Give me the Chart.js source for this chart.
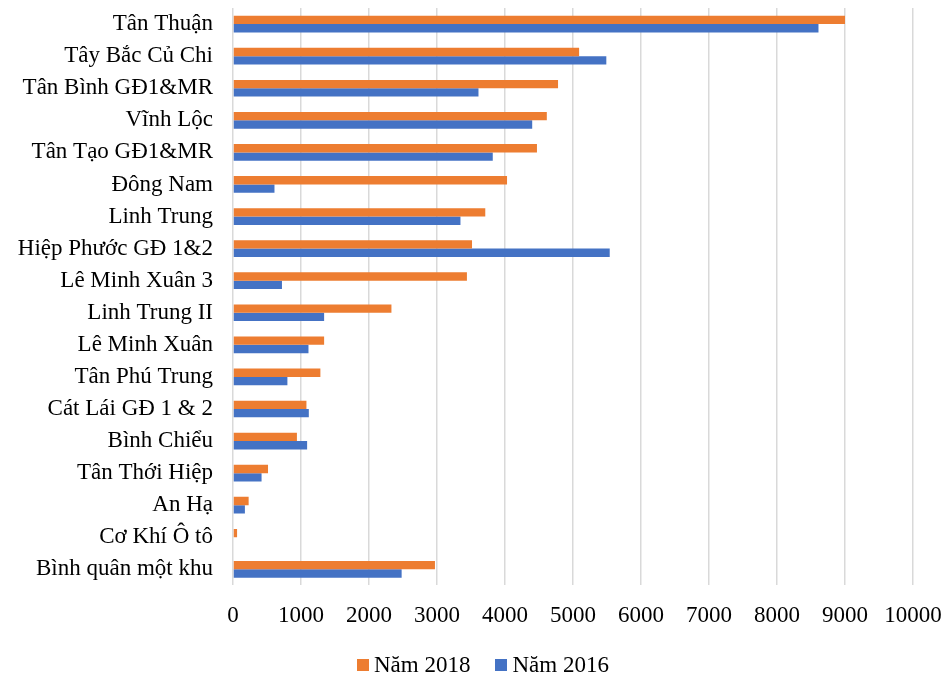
<!DOCTYPE html>
<html>
<head>
<meta charset="utf-8">
<script src="https://cdn.jsdelivr.net/npm/chart.js@4"></script>
<style>
  html, body { margin: 0; padding: 0; background: #fff; }
  #wrap { position: relative; width: 945px; height: 676px; }
  #legend {
    position: absolute; left: 357px; top: 653px;
    display: flex; align-items: center;
    font-family: 'Liberation Serif', 'Times New Roman', serif;
    font-size: 23px; line-height: 24px; color: #000;
  }
  #legend .item { display: flex; align-items: center; margin-right: 25px; }
  #legend .box { width: 12px; height: 12px; margin-right: 5px; }
</style>
</head>
<body>
<div id="wrap">
  <canvas id="chart"></canvas>
  <div id="legend"></div>
</div>
<script>
const categories = [
    'Tân Thuận', 'Tây Bắc Củ Chi', 'Tân Bình GĐ1&MR', 'Vĩnh Lộc', 'Tân Tạo GĐ1&MR',
    'Đông Nam', 'Linh Trung', 'Hiệp Phước GĐ 1&2', 'Lê Minh Xuân 3', 'Linh Trung II',
    'Lê Minh Xuân', 'Tân Phú Trung', 'Cát Lái GĐ 1 & 2', 'Bình Chiểu', 'Tân Thới Hiệp',
    'An Hạ', 'Cơ Khí Ô tô', 'Bình quân một khu'
];
const values2018 = [9000, 5090, 4780, 4615, 4470, 4030, 3710, 3515, 3440, 2330, 1340, 1285, 1080, 940, 515, 230, 60, 2970];
const values2016 = [8610, 5490, 3610, 4400, 3820, 610, 3345, 5540, 720, 1340, 1110, 800, 1115, 1090, 420, 175, 0, 2480];
const xTicks = [0, 1000, 2000, 3000, 4000, 5000, 6000, 7000, 8000, 9000, 10000];

const serif = "'Liberation Serif', 'Times New Roman', serif";
Chart.defaults.font.family = serif;
Chart.defaults.color = '#000';

const chart = new Chart(document.getElementById('chart'), {
    type: 'bar',
    data: {
        labels: categories,
        datasets: [
            { label: 'Năm 2018', data: values2018, backgroundColor: '#ED7D31' },
            { label: 'Năm 2016', data: values2016, backgroundColor: '#4472C4' }
        ]
    },
    options: {
        indexAxis: 'y',
        responsive: true,
        maintainAspectRatio: false,
        animation: false,
        datasets: { bar: { categoryPercentage: 0.52, barPercentage: 1 } },
        layout: { padding: { top: 0, right: 32, bottom: 46, left: 0 } },
        scales: {
            x: {
                min: xTicks[0],
                max: xTicks[xTicks.length - 1],
                afterBuildTicks: (scale) => { scale.ticks = xTicks.map(v => ({ value: v })); },
                ticks: { font: { size: 23 }, padding: 0, maxRotation: 0, callback: (v) => String(v) },
                grid: { color: '#D9D9D9', lineWidth: 1.5, drawTicks: true, tickLength: 17, tickColor: 'rgba(0,0,0,0)' },
                border: { display: false }
            },
            y: {
                afterFit: (scale) => { scale.width = 233; },
                ticks: { font: { size: 23, lineHeight: 0.7 }, padding: 0, autoSkip: false },
                grid: { display: false, tickLength: 20 },
                border: { display: false }
            }
        },
        plugins: {
            legend: { display: false },
            tooltip: { enabled: false }
        }
    }
});

// legend built from the chart's own datasets
const legendEl = document.getElementById('legend');
chart.data.datasets.forEach((ds) => {
    const item = document.createElement('div');
    item.className = 'item';
    const box = document.createElement('span');
    box.className = 'box';
    box.style.background = ds.backgroundColor;
    const txt = document.createElement('span');
    txt.textContent = ds.label;
    item.appendChild(box);
    item.appendChild(txt);
    legendEl.appendChild(item);
});
</script>
</body>
</html>
